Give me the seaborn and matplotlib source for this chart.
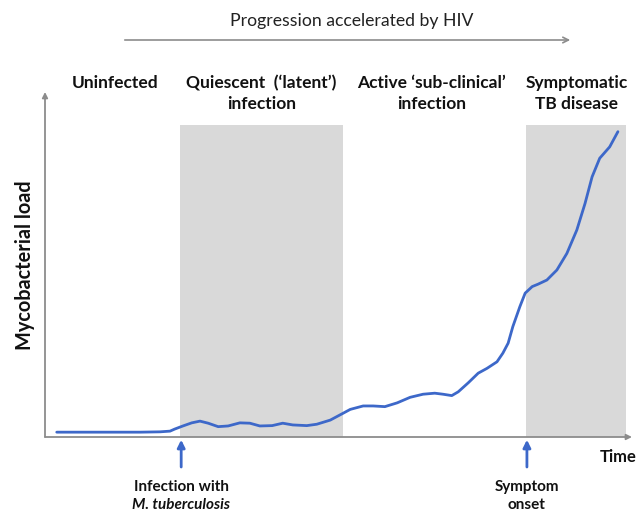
import numpy as np
import matplotlib
matplotlib.use("Agg")
import matplotlib.pyplot as plt
import seaborn as sns


# ---------------------------------
# DATA
# ---------------------------------

# time (0-100) and mycobacterial load (0-100), arbitrary units
time_points = [2.0, 9.4, 16.2, 19.6, 21.3, 22.1, 23.5, 25.0, 26.4, 27.8,
               29.5, 31.2, 33.2, 34.9, 36.6, 38.7, 40.5, 42.2, 44.6, 46.3,
               48.6, 50.8, 52.0, 54.2, 55.9, 57.9, 60.0, 62.2, 64.4, 66.4,
               67.8, 69.3, 70.4, 72.1, 73.8, 75.3, 77.0, 78.0, 78.9, 79.7,
               80.9, 81.8, 83.0, 84.0, 85.5, 87.2, 88.9, 90.6, 92.0, 93.2,
               94.5, 96.2, 97.6]
load_values = [1.4, 1.4, 1.4, 1.5, 1.7, 2.3, 3.2, 4.1, 4.6, 4.0,
               3.0, 3.2, 4.1, 4.0, 3.2, 3.3, 4.0, 3.5, 3.3, 3.7,
               4.9, 6.9, 8.0, 9.0, 9.0, 8.8, 9.9, 11.5, 12.4, 12.7,
               12.4, 12.0, 13.1, 15.7, 18.5, 19.9, 21.8, 24.3, 27.2, 32.0,
               37.8, 41.7, 43.6, 44.3, 45.5, 48.4, 53.2, 60.0, 67.7, 75.4,
               80.8, 84.1, 88.5]

# shaded phases (start, end, top) in time / load units
shade_starts = [23.0, 81.9]
shade_ends = [50.8, 99.0]
shade_top = 90.4

# phase titles and their centres on the time axis
phase_labels = ["Uninfected", "Quiescent  (\u2018latent\u2019)\ninfection",
                "Active \u2018sub-clinical\u2019\ninfection", "Symptomatic\nTB disease"]
phase_centres = [11.9, 36.9, 65.9, 90.6]

# events marked under the time axis
event_times = [23.2, 82.1]
event_lines_1 = ["Infection with", "Symptom"]
event_lines_2 = ["M. tuberculosis", "onset"]
event_styles_2 = ["italic", "normal"]

LINE_BLUE = "#3D68C9"
AXIS_GREY = "#8C8C8C"
SHADE = "#D9D9D9"


# ---------------------------------
# FIGURE
# ---------------------------------

sns.set_style("white")
plt.rcParams["font.family"] = ["Lato", "DejaVu Sans"]

fig = plt.figure(figsize=(6.38, 5.11), dpi=100)
ax = fig.add_axes([45 / 638, 74 / 511, 587 / 638, 345 / 511])
ax.set_xlim(0, 100)
ax.set_ylim(0, 100)
ax.axis("off")

for s, e in zip(shade_starts, shade_ends):
    ax.fill_between([s, e], 0, shade_top, color=SHADE, lw=0, zorder=0)

sns.lineplot(x=time_points, y=load_values, ax=ax, color=LINE_BLUE,
             linewidth=2.0, sort=False, estimator=None, zorder=3)
for line in ax.lines:
    line.set_solid_joinstyle("round")
    line.set_solid_capstyle("round")

# axes with arrow heads
axis_arrow = dict(arrowstyle="-|>", color=AXIS_GREY, lw=1.3,
                  mutation_scale=8, shrinkA=0, shrinkB=0)
ax.annotate("", xy=(0, 1.0), xytext=(0, 0), xycoords="axes fraction",
            arrowprops=axis_arrow, annotation_clip=False)
ax.annotate("", xy=(1.0, 0), xytext=(0, 0), xycoords="axes fraction",
            arrowprops=axis_arrow, annotation_clip=False)

# event arrows and labels
for t, l1, l2, st in zip(event_times, event_lines_1, event_lines_2, event_styles_2):
    ax.annotate("", xy=(t, -0.8), xytext=(t, -8.7),
                arrowprops=dict(arrowstyle="-|>", color=LINE_BLUE, lw=2,
                                mutation_scale=11, shrinkA=0, shrinkB=0),
                annotation_clip=False)
    ax.text(t, -14.5, l1, ha="center", va="center", fontsize=11,
            fontweight="bold", color="#111111", clip_on=False)
    ax.text(t, -19.7, l2, ha="center", va="center", fontsize=11,
            fontweight="bold", style=st, color="#111111", clip_on=False)

# phase titles
for label, c in zip(phase_labels, phase_centres):
    ax.text(c, 105.0, label, ha="center", va="top", fontsize=12.5,
            fontweight="bold", color="#111111", linespacing=1.4,
            clip_on=False)

# axis titles
fig.text(25 / 638, 1 - 265 / 511, "Mycobacterial load", rotation=90,
         ha="center", va="center", fontsize=14.3, fontweight="bold",
         color="#111111")
fig.text(618 / 638, 1 - 457 / 511, "Time", ha="center", va="center",
         fontsize=12, fontweight="bold", color="#111111")

# top annotation
fig.text(352 / 638, 1 - 21 / 511, "Progression accelerated by HIV",
         ha="center", va="center", fontsize=12.7, color="#222222")
fig.add_artist(matplotlib.patches.FancyArrowPatch(
    (122 / 638, 1 - 40 / 511), (573 / 638, 1 - 40 / 511),
    transform=fig.transFigure, arrowstyle="->", color=AXIS_GREY,
    lw=1.2, mutation_scale=10))

fig.savefig("out.png", dpi=100)
